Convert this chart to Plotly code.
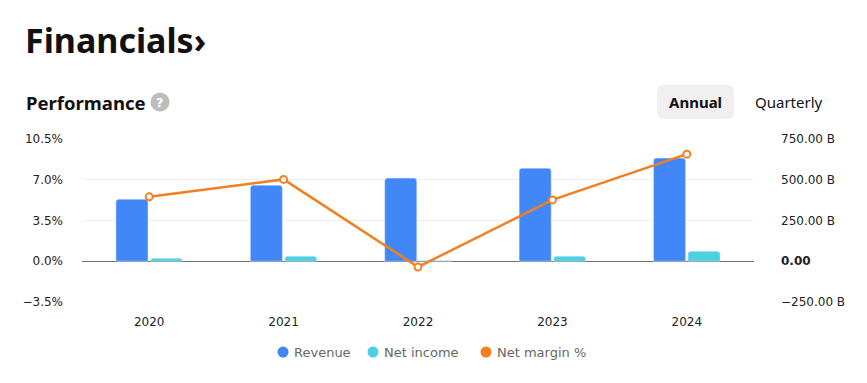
import plotly.graph_objects as go

years = ["2020", "2021", "2022", "2023", "2024"]
revenue_b = [381, 467, 510, 571, 633]
net_income_b = [18, 31, 5, 31, 61]
net_margin_pct = [5.53, 7.03, -0.49, 5.27, 9.2]

left_ticks = [-3.5, 0.0, 3.5, 7.0, 10.5]
left_labels = ["\u22123.5%", "0.0%", "3.5%", "7.0%", "10.5%"]
right_ticks = [-250, 0, 250, 500, 750]
right_labels = ["\u2212250.00 B", "<b>0.00</b>", "250.00 B", "500.00 B", "750.00 B"]

series_names = ["Revenue", "Net income", "Net margin %"]

C_REV = "#4287f8"
C_NI = "#4dd0e1"
C_NM = "#f47f1e"

OFF = 8  # page body margin
W, H = 867, 383
L, R, T, B = 82 - OFF, 754 - OFF, 139 - OFF, 302 - OFF

def px(x):
    return (x - OFF - L) / (R - L)

def py(y):
    return (B - (y - OFF)) / (B - T)

fig = go.Figure()
# bars on the base (right-side) axis, line on the overlaying (left-side) axis so it draws on top
fig.add_trace(go.Bar(x=years, y=revenue_b, name=series_names[0], marker_color=C_REV,
                     yaxis="y", showlegend=False))
fig.add_trace(go.Bar(x=years, y=net_income_b, name=series_names[1], marker_color=C_NI,
                     yaxis="y", showlegend=False))
fig.add_trace(go.Scatter(x=years, y=net_margin_pct, name=series_names[2], mode="lines+markers",
                         line=dict(color=C_NM, width=2.5),
                         marker=dict(symbol="circle", size=7, color="white",
                                     line=dict(color=C_NM, width=2)),
                         yaxis="y2", showlegend=False))

tick_font = dict(family="DejaVu Sans, Verdana, sans-serif", size=12, color="#222")

fig.update_layout(
    width=W, height=H,
    margin=dict(l=L, r=W - R, t=T, b=H - B),
    paper_bgcolor="white", plot_bgcolor="white",
    barmode="group", bargap=0.487, bargroupgap=0.07, barcornerradius=3,
    font=dict(family="DejaVu Sans, sans-serif"),
    showlegend=False,
    xaxis=dict(type="category", showgrid=False, showline=False, ticks="",
               tickfont=tick_font, ticklabelstandoff=11),
    yaxis=dict(range=[-250, 750], tickvals=right_ticks, ticktext=right_labels,
               side="right", showgrid=True, gridcolor="#efefef", gridwidth=1,
               zeroline=True, zerolinecolor="#707070", zerolinewidth=1,
               tickfont=tick_font, ticklabelstandoff=26, ticks=""),
    yaxis2=dict(range=[-3.5, 10.5], tickvals=left_ticks, ticktext=left_labels,
                overlaying="y", side="left", showgrid=False, zeroline=False,
                tickfont=tick_font, ticklabelstandoff=18, ticks=""),
    hovermode=False,
)

annotations = [
    dict(text="<b>Financials\u203a</b>", x=px(23), y=py(40), xanchor="left", yanchor="middle",
         font=dict(family="Noto Sans, sans-serif", size=34, color="#111")),
    dict(text="<b>Performance</b>", x=px(24), y=py(102), xanchor="left", yanchor="middle",
         font=dict(family="Noto Sans, sans-serif", size=18.5, color="#111")),
    dict(text="<b>?</b>", x=px(160), y=py(102), xanchor="center", yanchor="middle",
         font=dict(family="DejaVu Sans, sans-serif", size=13, color="white")),
    dict(text="<b>Annual</b>", x=px(695.5), y=py(102), xanchor="center", yanchor="middle",
         font=dict(family="Noto Sans, sans-serif", size=15, color="#111")),
    dict(text="Quarterly", x=px(788.5), y=py(102), xanchor="center", yanchor="middle",
         font=dict(family="Noto Sans, sans-serif", size=15, color="#111")),
]
# manual legend with circular swatches
leg_dot_x = [283, 373, 486]
for nm, c, dx in zip(series_names, [C_REV, C_NI, C_NM], leg_dot_x):
    annotations.append(dict(text=nm, x=px(dx + 9), y=py(352), xanchor="left", yanchor="middle",
                            font=dict(family="DejaVu Sans, sans-serif", size=13, color="#666")))
    fig.add_shape(type="circle", xref="paper", yref="paper",
                  x0=px(dx - 5.5), x1=px(dx + 5.5), y0=py(346.5), y1=py(357.5),
                  fillcolor=c, line=dict(width=0))
for a in annotations:
    a.update(xref="paper", yref="paper", showarrow=False)
fig.update_layout(annotations=annotations)

# rounded button background
x0, x1, y0, y1, r = 657, 734, 85, 119, 7
pts = [
    f"M {px(x0 + r)},{py(y0)}", f"L {px(x1 - r)},{py(y0)}", f"Q {px(x1)},{py(y0)} {px(x1)},{py(y0 + r)}",
    f"L {px(x1)},{py(y1 - r)}", f"Q {px(x1)},{py(y1)} {px(x1 - r)},{py(y1)}",
    f"L {px(x0 + r)},{py(y1)}", f"Q {px(x0)},{py(y1)} {px(x0)},{py(y1 - r)}",
    f"L {px(x0)},{py(y0 + r)}", f"Q {px(x0)},{py(y0)} {px(x0 + r)},{py(y0)}", "Z",
]
fig.add_shape(type="path", path=" ".join(pts), xref="paper", yref="paper",
              fillcolor="#f0f0f0", line=dict(width=0), layer="below")
fig.add_shape(type="circle", xref="paper", yref="paper",
              x0=px(150.5), x1=px(169.5), y0=py(92.5), y1=py(111.5),
              fillcolor="#bdbdbd", line=dict(width=0), layer="below")

fig.write_html("out.html", config={"displayModeBar": False})
